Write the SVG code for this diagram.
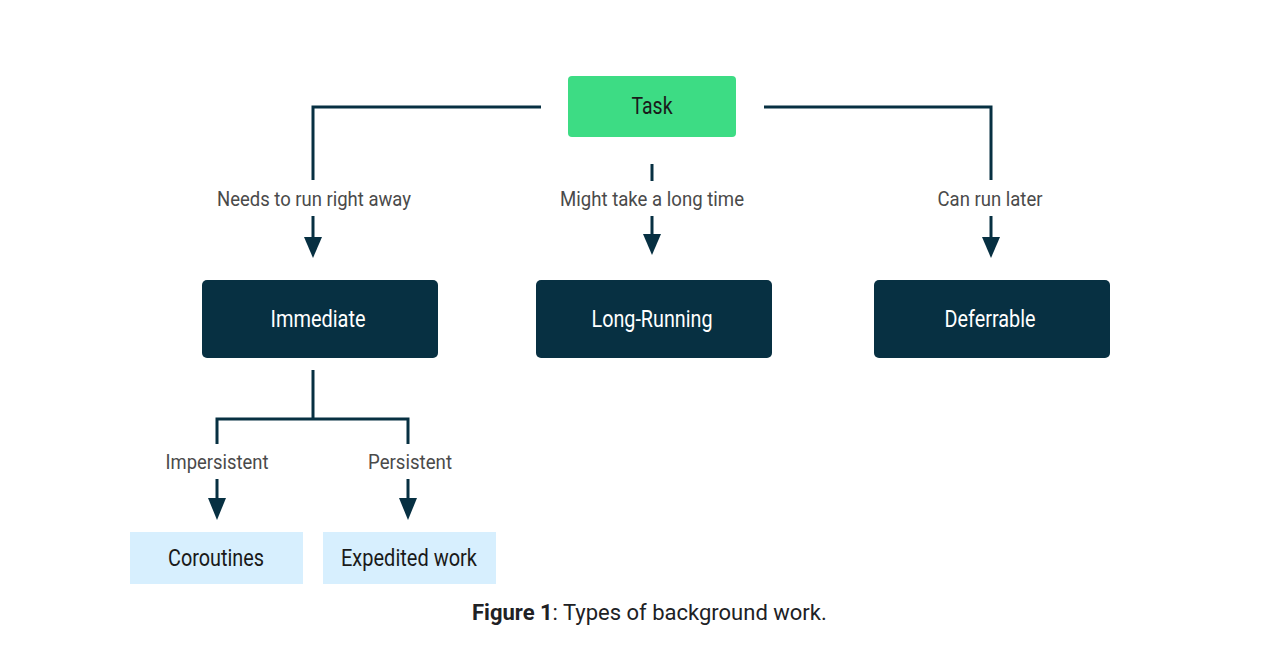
<svg xmlns="http://www.w3.org/2000/svg" width="1280" height="652" viewBox="0 0 1280 652">
<style>
.t{font-family:Roboto,"Liberation Sans",sans-serif;text-anchor:middle}
.lbl{font-size:21px;fill:#4a4a4a}
.dk{font-size:24px;fill:#ffffff}
.lt{font-size:23px;fill:#1a1a1a}
.ln{fill:none;stroke:#073042;stroke-width:3}
.ah{fill:#073042}
.cap{font-family:Roboto,"Liberation Sans",sans-serif;font-size:22px;fill:#202124}
</style>
<rect width="1280" height="652" fill="#ffffff"/>
<g id="connectors">
<polyline class="ln" points="541,107 313,107 313,180"/>
<polyline class="ln" points="764,107 991,107 991,180"/>
<line class="ln" x1="652" y1="164" x2="652" y2="181"/>
<line class="ln" x1="313" y1="216" x2="313" y2="240"/>
<polygon class="ah" points="304,237 322,237 313,258"/>
<line class="ln" x1="652" y1="216" x2="652" y2="237"/>
<polygon class="ah" points="643,234 661,234 652,255"/>
<line class="ln" x1="991" y1="216" x2="991" y2="240"/>
<polygon class="ah" points="982,237 1000,237 991,258"/>
<polyline class="ln" points="313,370 313,419"/>
<polyline class="ln" points="217,444 217,419 408,419 408,444"/>
<line class="ln" x1="217" y1="479" x2="217" y2="501"/>
<polygon class="ah" points="208,498 226,498 217,520"/>
<line class="ln" x1="408" y1="479" x2="408" y2="501"/>
<polygon class="ah" points="399,498 417,498 408,520"/>
<text class="t lbl" x="314" y="206" textLength="194" lengthAdjust="spacingAndGlyphs">Needs to run right away</text>
<text class="t lbl" x="652" y="206" textLength="184" lengthAdjust="spacingAndGlyphs">Might take a long time</text>
<text class="t lbl" x="990" y="206" textLength="105" lengthAdjust="spacingAndGlyphs">Can run later</text>
<text class="t lbl" x="217" y="469" textLength="103" lengthAdjust="spacingAndGlyphs">Impersistent</text>
<text class="t lbl" x="410" y="469" textLength="84" lengthAdjust="spacingAndGlyphs">Persistent</text>
</g>
<g id="task">
<rect x="568" y="76" width="168" height="61" rx="4" fill="#3ddc84"/>
<text class="t lt" x="652" y="114" textLength="41" lengthAdjust="spacingAndGlyphs">Task</text>
</g>
<g id="immediate">
<rect x="202" y="280" width="236" height="78" rx="5" fill="#073042"/>
<text class="t dk" x="318" y="327" textLength="95" lengthAdjust="spacingAndGlyphs">Immediate</text>
</g>
<g id="long-running">
<rect x="536" y="280" width="236" height="78" rx="5" fill="#073042"/>
<text class="t dk" x="652" y="327" textLength="121" lengthAdjust="spacingAndGlyphs">Long-Running</text>
</g>
<g id="deferrable">
<rect x="874" y="280" width="236" height="78" rx="5" fill="#073042"/>
<text class="t dk" x="990" y="327" textLength="91" lengthAdjust="spacingAndGlyphs">Deferrable</text>
</g>
<g id="coroutines">
<rect x="130" y="532" width="173" height="52" fill="#d7effe"/>
<text class="t lt" x="216" y="566" textLength="96" lengthAdjust="spacingAndGlyphs">Coroutines</text>
</g>
<g id="expedited">
<rect x="323" y="532" width="173" height="52" fill="#d7effe"/>
<text class="t lt" x="409" y="566" textLength="136" lengthAdjust="spacingAndGlyphs">Expedited work</text>
</g>
<text class="cap" x="472" y="620"><tspan font-weight="bold">Figure 1</tspan>: Types of background work.</text>
</svg>
